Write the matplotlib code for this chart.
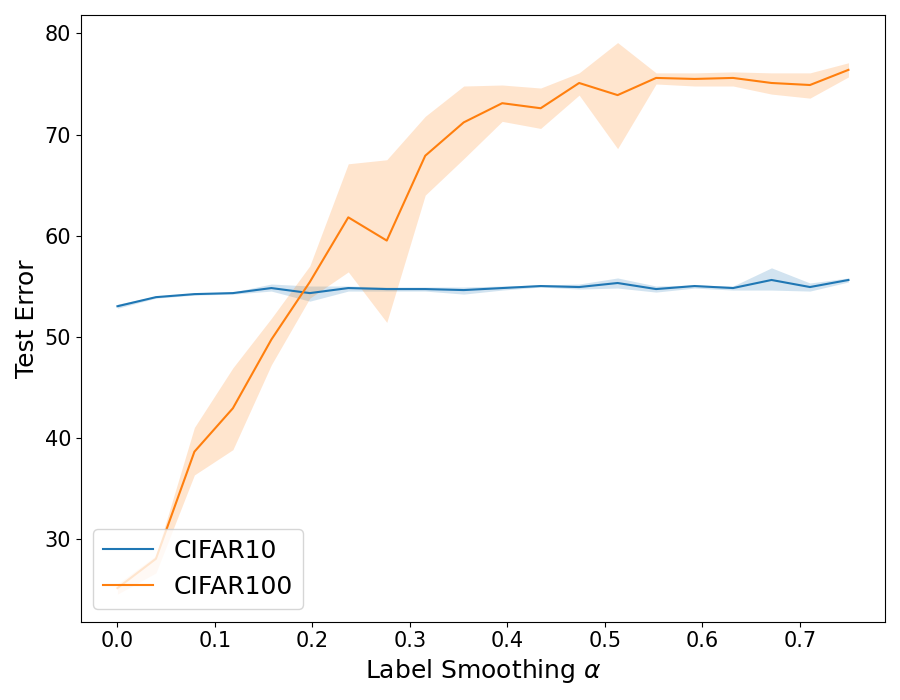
import numpy as np
import matplotlib
matplotlib.use('Agg')
import matplotlib.pyplot as plt

# label smoothing values
alphas = np.linspace(0, 0.75, 20)

c10_mean = [53.0, 53.9, 54.2, 54.3, 54.8, 54.3, 54.8, 54.7, 54.7, 54.6,
            54.8, 55.0, 54.9, 55.3, 54.7, 55.0, 54.8, 55.6, 54.9, 55.6]
c10_low = [52.8, 53.8, 54.1, 54.2, 54.5, 53.5, 54.5, 54.5, 54.5, 54.2,
           54.6, 54.9, 54.7, 54.8, 54.4, 54.8, 54.6, 54.6, 54.5, 55.4]
c10_high = [53.2, 54.0, 54.3, 54.4, 55.2, 55.0, 55.0, 54.9, 54.9, 54.9,
            55.0, 55.1, 55.2, 55.8, 55.0, 55.1, 55.0, 56.8, 55.3, 55.8]

c100_mean = [25.1, 28.0, 38.6, 42.9, 49.7, 55.4, 61.8, 59.5, 67.9, 71.2,
             73.1, 72.6, 75.1, 73.9, 75.6, 75.5, 75.6, 75.1, 74.9, 76.4]
c100_low = [24.5, 26.6, 36.3, 38.8, 47.2, 53.8, 56.4, 51.4, 64.0, 67.6,
            71.3, 70.6, 73.9, 68.6, 75.0, 74.8, 74.8, 74.0, 73.6, 75.7]
c100_high = [25.5, 28.3, 41.0, 46.9, 51.8, 57.0, 67.1, 67.5, 71.8, 74.8,
             74.9, 74.6, 76.1, 79.1, 76.1, 76.1, 76.2, 76.1, 76.1, 77.1]

fig, ax = plt.subplots(figsize=(9, 7), dpi=100)

ax.plot(alphas, c10_mean, color='#1f77b4', label='CIFAR10')
ax.fill_between(alphas, c10_low, c10_high, color='#1f77b4', alpha=0.2, linewidth=0)
ax.plot(alphas, c100_mean, color='#ff7f0e', label='CIFAR100')
ax.fill_between(alphas, c100_low, c100_high, color='#ff7f0e', alpha=0.2, linewidth=0)

ax.set_xlabel(r'Label Smoothing $\alpha$', fontsize=18)
ax.set_ylabel('Test Error', fontsize=18)
ax.tick_params(labelsize=15)
ax.legend(loc='lower left', fontsize=18)

plt.tight_layout()
plt.savefig('out.png')
